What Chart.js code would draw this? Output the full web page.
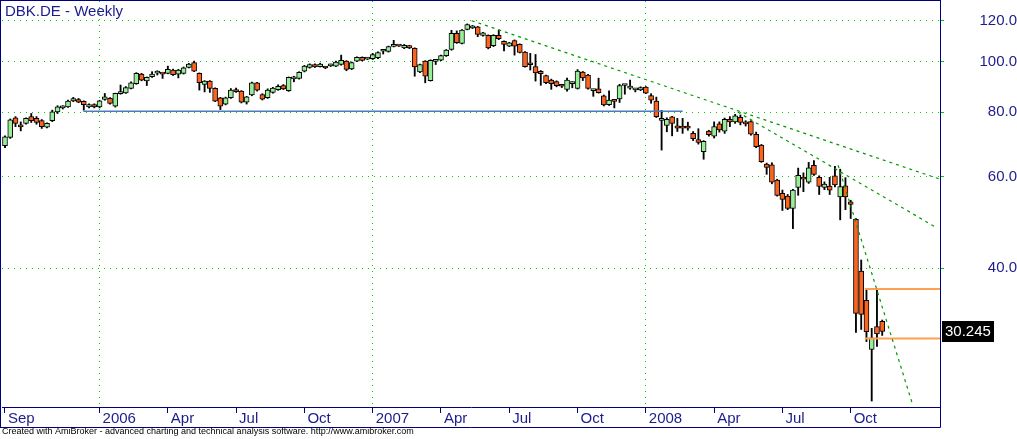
<!DOCTYPE html>
<html>
<head>
<meta charset="utf-8">
<script src="https://cdn.jsdelivr.net/npm/chart.js@4.4.1/dist/chart.umd.min.js"></script>
<style>
  html, body { margin: 0; padding: 0; background: #fff; }
  #c { display: block; }
</style>
</head>
<body>
<canvas id="c" width="1017" height="439"></canvas>
<script>
// ── weekly bars, DBK.DE, week 0 = first week of Sep 2005 ──
var opens = [
  68.9, 71.5, 78.0, 75.1, 76.1, 78.4, 77.8, 77.0, 74.8, 77.0, 80.1, 81.5,
  81.9, 84.1, 84.6, 83.9, 81.9, 82.7, 81.9, 84.6, 85.0, 82.1, 86.8, 87.1,
  88.9, 90.8, 94.7, 91.9, 93.6, 95.1, 94.8, 95.0, 96.4, 94.7, 95.0, 97.5,
  99.7, 95.0, 90.4, 91.8, 88.9, 85.2, 82.9, 85.3, 88.4, 87.8, 83.6, 86.3,
  91.1, 86.5, 85.3, 87.3, 88.4, 90.0, 88.0, 92.7, 92.9, 95.9, 97.5, 98.8,
  97.9, 97.5, 98.2, 98.1, 98.8, 100.3, 96.9, 100.3, 102.0, 101.2, 101.4, 101.9,
  104.8, 104.7, 107.0, 107.5, 106.4, 107.4, 106.1, 95.6, 100.3, 92.0, 100.2, 100.7,
  102.7, 105.6, 113.4, 108.5, 115.4, 116.2, 116.8, 112.4, 112.5, 107.4, 112.5, 109.5,
  107.2, 109.9, 108.1, 104.4, 98.8, 97.9, 95.9, 94.1, 92.2, 91.6, 89.8, 88.5,
  90.8, 88.9, 95.5, 94.3, 88.0, 88.7, 86.0, 82.7, 84.0, 84.8, 90.0, 89.0,
  88.3, 88.3, 89.4, 86.1, 84.0, 77.1, 75.4, 78.3, 75.3, 75.0, 75.0, 72.8,
  70.8, 67.1, 73.5, 71.9, 75.9, 73.5, 77.5, 76.6, 78.2, 76.6, 76.7, 72.5,
  69.1, 63.5, 63.3, 59.2, 55.8, 55.1, 52.2, 57.3, 59.5, 58.6, 63.2, 59.9,
  57.3, 57.6, 60.3, 54.9, 57.7, 53.7, 49.7, 39.5, 34.7, 27.9, 30.9, 31.6
];
var highs = [
  72.0, 77.6, 78.4, 76.6, 78.0, 79.5, 78.4, 77.4, 76.3, 80.7, 82.3, 82.3,
  84.4, 85.4, 85.0, 84.1, 83.0, 83.0, 84.3, 86.9, 85.3, 87.0, 90.2, 89.6,
  91.5, 95.3, 95.0, 93.5, 95.7, 96.1, 95.0, 98.1, 96.8, 96.7, 97.7, 99.3,
  100.3, 95.2, 92.0, 92.0, 89.1, 85.4, 85.5, 88.8, 89.0, 88.0, 85.8, 91.4,
  91.3, 86.8, 88.7, 89.3, 90.3, 90.4, 93.5, 93.8, 95.7, 98.4, 99.1, 99.1,
  99.4, 97.9, 99.0, 100.3, 103.0, 100.5, 99.9, 102.2, 102.2, 102.0, 103.8, 104.5,
  105.3, 107.2, 110.0, 107.6, 108.0, 107.6, 106.4, 99.0, 100.5, 100.9, 100.6, 103.0,
  105.6, 115.0, 114.7, 115.4, 118.3, 117.5, 117.0, 114.0, 112.7, 112.8, 115.1, 109.7,
  109.0, 110.2, 108.3, 104.6, 103.8, 103.3, 96.2, 94.3, 92.6, 91.9, 90.5, 93.0,
  91.5, 96.6, 95.8, 94.6, 88.5, 93.0, 86.3, 87.9, 84.3, 90.5, 90.3, 92.2,
  88.9, 89.5, 89.6, 86.8, 85.5, 80.6, 78.0, 78.5, 77.8, 77.8, 76.5, 73.4,
  74.3, 70.5, 73.8, 76.6, 76.6, 77.9, 78.4, 79.2, 79.0, 77.0, 77.0, 73.2,
  69.3, 63.8, 63.9, 59.4, 56.6, 55.5, 56.8, 62.4, 61.1, 64.0, 64.5, 60.3,
  58.7, 59.9, 62.9, 62.1, 59.8, 54.1, 49.9, 41.5, 36.6, 30.65, 36.5, 31.8
];
var lows = [
  68.3, 71.2, 75.0, 73.6, 75.8, 76.4, 75.8, 74.4, 74.6, 76.7, 79.5, 81.1,
  81.7, 83.8, 83.4, 80.7, 81.5, 81.5, 81.5, 84.3, 82.9, 81.8, 86.6, 86.9,
  88.7, 90.5, 91.9, 90.0, 93.3, 94.3, 92.9, 94.8, 94.1, 93.1, 94.7, 97.3,
  95.7, 88.2, 87.5, 87.3, 83.8, 80.9, 82.6, 85.0, 87.3, 83.3, 82.9, 86.0,
  87.8, 84.4, 85.0, 87.0, 88.1, 88.4, 87.7, 91.5, 92.6, 95.6, 97.2, 97.5,
  97.7, 97.0, 97.9, 97.9, 98.5, 96.1, 96.6, 100.0, 100.4, 101.0, 101.0, 101.4,
  103.5, 104.4, 106.8, 107.0, 106.0, 106.0, 93.8, 95.3, 91.1, 91.8, 98.8, 100.5,
  102.4, 105.3, 108.5, 108.2, 115.2, 115.9, 111.8, 112.0, 105.9, 107.0, 110.3, 104.9,
  107.0, 103.0, 104.0, 97.6, 96.4, 91.8, 90.1, 90.8, 88.5, 89.5, 89.2, 87.8,
  89.1, 88.6, 92.0, 88.6, 85.8, 87.0, 82.2, 82.4, 81.5, 83.5, 86.6, 88.5,
  87.5, 88.0, 86.8, 83.2, 78.1, 67.6, 73.3, 72.0, 73.4, 72.8, 73.8, 70.5,
  69.4, 64.9, 71.9, 71.3, 73.2, 72.8, 75.0, 76.1, 75.6, 75.2, 72.2, 68.3,
  64.0, 60.7, 58.2, 55.1, 51.7, 51.9, 47.7, 55.3, 56.2, 58.3, 60.4, 55.5,
  56.7, 55.5, 57.4, 49.6, 51.9, 49.9, 30.1, 30.5, 28.9, 22.2, 28.3, 29.7
];
var closes = [
  71.7, 77.3, 76.1, 74.9, 77.8, 77.0, 76.4, 75.0, 76.1, 80.1, 81.9, 81.8,
  84.0, 84.9, 83.6, 82.7, 82.7, 81.9, 84.1, 85.6, 83.1, 86.9, 87.0, 89.2,
  91.1, 95.0, 92.2, 93.3, 94.7, 95.3, 94.7, 96.7, 94.4, 96.4, 97.4, 99.0,
  95.9, 91.2, 91.8, 88.9, 84.0, 82.1, 85.2, 88.2, 87.6, 83.6, 85.6, 91.1,
  88.2, 84.7, 88.2, 89.0, 89.7, 88.7, 93.3, 92.8, 95.4, 98.1, 98.8, 97.8,
  99.0, 97.3, 98.5, 99.9, 100.7, 96.7, 99.6, 102.0, 100.6, 101.6, 103.2, 104.2,
  105.0, 107.0, 108.0, 107.2, 107.6, 106.4, 97.8, 98.8, 93.8, 100.6, 100.4, 102.8,
  105.3, 113.4, 108.9, 115.1, 118.0, 117.2, 112.9, 113.7, 106.4, 112.5, 110.8, 108.0,
  108.8, 107.2, 104.2, 97.9, 98.7, 95.2, 94.9, 91.2, 90.8, 89.9, 89.7, 92.2,
  91.2, 96.0, 93.1, 88.9, 88.2, 87.2, 82.6, 84.4, 83.9, 90.0, 90.2, 89.0,
  88.5, 89.2, 87.0, 84.3, 78.4, 77.2, 77.5, 76.1, 74.5, 74.5, 74.5, 71.1,
  69.9, 70.3, 72.4, 75.0, 73.9, 77.5, 76.6, 78.7, 76.4, 75.9, 72.5, 68.6,
  64.2, 62.6, 58.6, 55.3, 54.3, 52.2, 56.6, 60.4, 59.4, 62.5, 60.7, 57.5,
  58.1, 56.6, 57.9, 57.5, 54.9, 53.1, 32.75, 32.6, 30.2, 29.4, 29.9, 30.245
];

// x-axis: week index of the first bar of each labelled month
var monthTicks  = [0, 18, 31, 44, 57, 70, 83, 96, 109, 122, 135, 148, 161];
var monthLabels = ['Sep', '2006', 'Apr', 'Jul', 'Oct', '2007', 'Apr', 'Jul', 'Oct', '2008', 'Apr', 'Jul', 'Oct'];
var yearTicks   = [18, 70, 122];
var priceTicks  = [40, 60, 80, 100, 120];

// drawn studies: [week, price] end points
var trendA  = [[88.85, 120.0], [178.0, 59.4]];
var trendB  = [[139.5, 80.0], [177.2, 48.0]];
var trendC  = [[158.6, 63.2], [172.7, 22.0]];
var support = [[14.9, 80.3], [129.0, 80.3]];
var levelHi = [[163.7, 36.5], [178.0, 36.5]];
var levelLo = [[163.7, 29.3], [178.0, 29.3]];

var X_MIN = -0.57, X_MAX = 178.0;
var Y_MIN = 21.62, Y_MAX = 130.96;

var NAVY = '#00007f';
var TEXT = '#1c1c8c';
var GRID_GREEN = '#00cc00';
var TREND_GREEN = '#009a00';
var UP = '#98ee98';
var DOWN = '#fa6420';
var FONT = "'Liberation Sans', Arial, sans-serif";

var idx = opens.map(function (_, i) { return i; });
var pts = function (arr) { return arr.map(function (p) { return { x: p[0], y: p[1] }; }); };

function lineSet(arr, color, width, dash) {
  return {
    type: 'line', data: pts(arr), borderColor: color, borderWidth: width,
    borderDash: dash || [], pointRadius: 0, fill: false, order: 0
  };
}

// ═══════════════════════════════════════════════
//  OVERLAY: frame, caption, last-price tag
// ═══════════════════════════════════════════════
var overlay = {
  id: 'overlay',
  afterDraw: function (chart) {
    var ctx = chart.ctx, a = chart.chartArea, xs = chart.scales.x, ys = chart.scales.y;
    ctx.save();
    ctx.strokeStyle = NAVY;
    ctx.lineWidth = 1;
    ctx.beginPath();
    ctx.moveTo(0.5, 0.5); ctx.lineTo(a.right + 0.5, 0.5);
    ctx.moveTo(0.5, 0); ctx.lineTo(0.5, xs.bottom + 0.5);
    ctx.moveTo(0, xs.bottom + 0.5); ctx.lineTo(a.right + 0.5, xs.bottom + 0.5);
    ctx.moveTo(a.right + 0.5, 0); ctx.lineTo(a.right + 0.5, xs.bottom + 0.5);
    ctx.stroke();

    ctx.fillStyle = TEXT;
    ctx.font = '15px ' + FONT;
    ctx.textBaseline = 'alphabetic';
    ctx.textAlign = 'left';
    ctx.fillText('DBK.DE - Weekly', a.left + 3, a.top + 15);

    var last = closes[closes.length - 1];
    var py = ys.getPixelForValue(last);
    ctx.fillStyle = '#000';
    ctx.fillRect(a.right + 2, Math.round(py) - 10, 52, 21);
    ctx.fillStyle = '#fff';
    ctx.textBaseline = 'middle';
    ctx.fillText(last.toFixed(3), a.right + 5, py + 1);
    ctx.restore();
  }
};

new Chart(document.getElementById('c'), {
  type: 'bar',
  data: {
    datasets: [
      lineSet(trendA, TREND_GREEN, 1.2, [3, 4]),
      lineSet(trendB, TREND_GREEN, 1.2, [3, 4]),
      lineSet(trendC, TREND_GREEN, 1.2, [3, 4]),
      lineSet(support, '#4a7cc0', 1.3),
      lineSet(levelHi, '#ffa050', 2),
      lineSet(levelLo, '#ffa050', 2),
      {
        type: 'bar', order: 1, grouped: false,
        data: idx.map(function (i) { return { x: i, y: [opens[i], closes[i]] }; }),
        backgroundColor: idx.map(function (i) { return closes[i] >= opens[i] ? UP : DOWN; }),
        borderColor: '#000', borderWidth: 1, borderSkipped: false,
        barThickness: 5, minBarLength: 2
      },
      {
        type: 'bar', order: 2, grouped: false,
        data: idx.map(function (i) { return { x: i, y: [lows[i], highs[i]] }; }),
        backgroundColor: '#000', borderWidth: 0, barThickness: 1.2
      }
    ]
  },
  options: {
    responsive: false,
    devicePixelRatio: 1,
    animation: false,
    layout: { padding: { left: 2, top: 1, right: 0, bottom: 0 } },
    plugins: {
      legend: { display: false },
      tooltip: { enabled: false },
      title: {
        display: true, position: 'bottom', align: 'start', color: '#000',
        text: 'Created with AmiBroker - advanced charting and technical analysis software. http://www.amibroker.com',
        font: { family: FONT, size: 9, weight: 'normal', lineHeight: '9px' },
        padding: { top: 0, bottom: 3 }
      }
    },
    scales: {
      x: {
        type: 'linear', min: X_MIN, max: X_MAX, bounds: 'data', offset: false,
        afterBuildTicks: function (s) { s.ticks = monthTicks.map(function (v) { return { value: v }; }); },
        afterFit: function (s) { s.height = 20; s.paddingLeft = 0; s.paddingRight = 0; },
        ticks: {
          autoSkip: false, maxRotation: 0, minRotation: 0, align: 'start', labelOffset: 3, padding: -2,
          color: TEXT, font: { family: FONT, size: 15, lineHeight: 1 },
          callback: function (v) { var k = monthTicks.indexOf(v); return k >= 0 ? monthLabels[k] : ''; }
        },
        grid: {
          offset: false, lineWidth: 1, tickLength: 6, tickColor: NAVY,
          color: function (c) { return c.tick && yearTicks.indexOf(c.tick.value) >= 0 ? GRID_GREEN : 'rgba(0,0,0,0)'; }
        },
        border: { color: NAVY, width: 1, dash: [1, 5] }
      },
      y: {
        type: 'logarithmic', position: 'right', min: Y_MIN, max: Y_MAX, bounds: 'data',
        afterBuildTicks: function (s) { s.ticks = priceTicks.map(function (v) { return { value: v }; }); },
        // keep the label padding from shrinking the plot vertically
        afterFit: function (s) { s.width = 77; s.paddingTop = 0; s.paddingBottom = 0; },
        ticks: {
          crossAlign: 'far', padding: 30, color: TEXT,
          font: { family: FONT, size: 15 },
          callback: function (v) { return Number(v).toFixed(1); }
        },
        grid: { color: GRID_GREEN, tickColor: GRID_GREEN, tickLength: 4, lineWidth: 1 },
        border: { color: NAVY, width: 1, dash: [1, 5] }
      }
    }
  },
  plugins: [overlay]
});
</script>
</body>
</html>
